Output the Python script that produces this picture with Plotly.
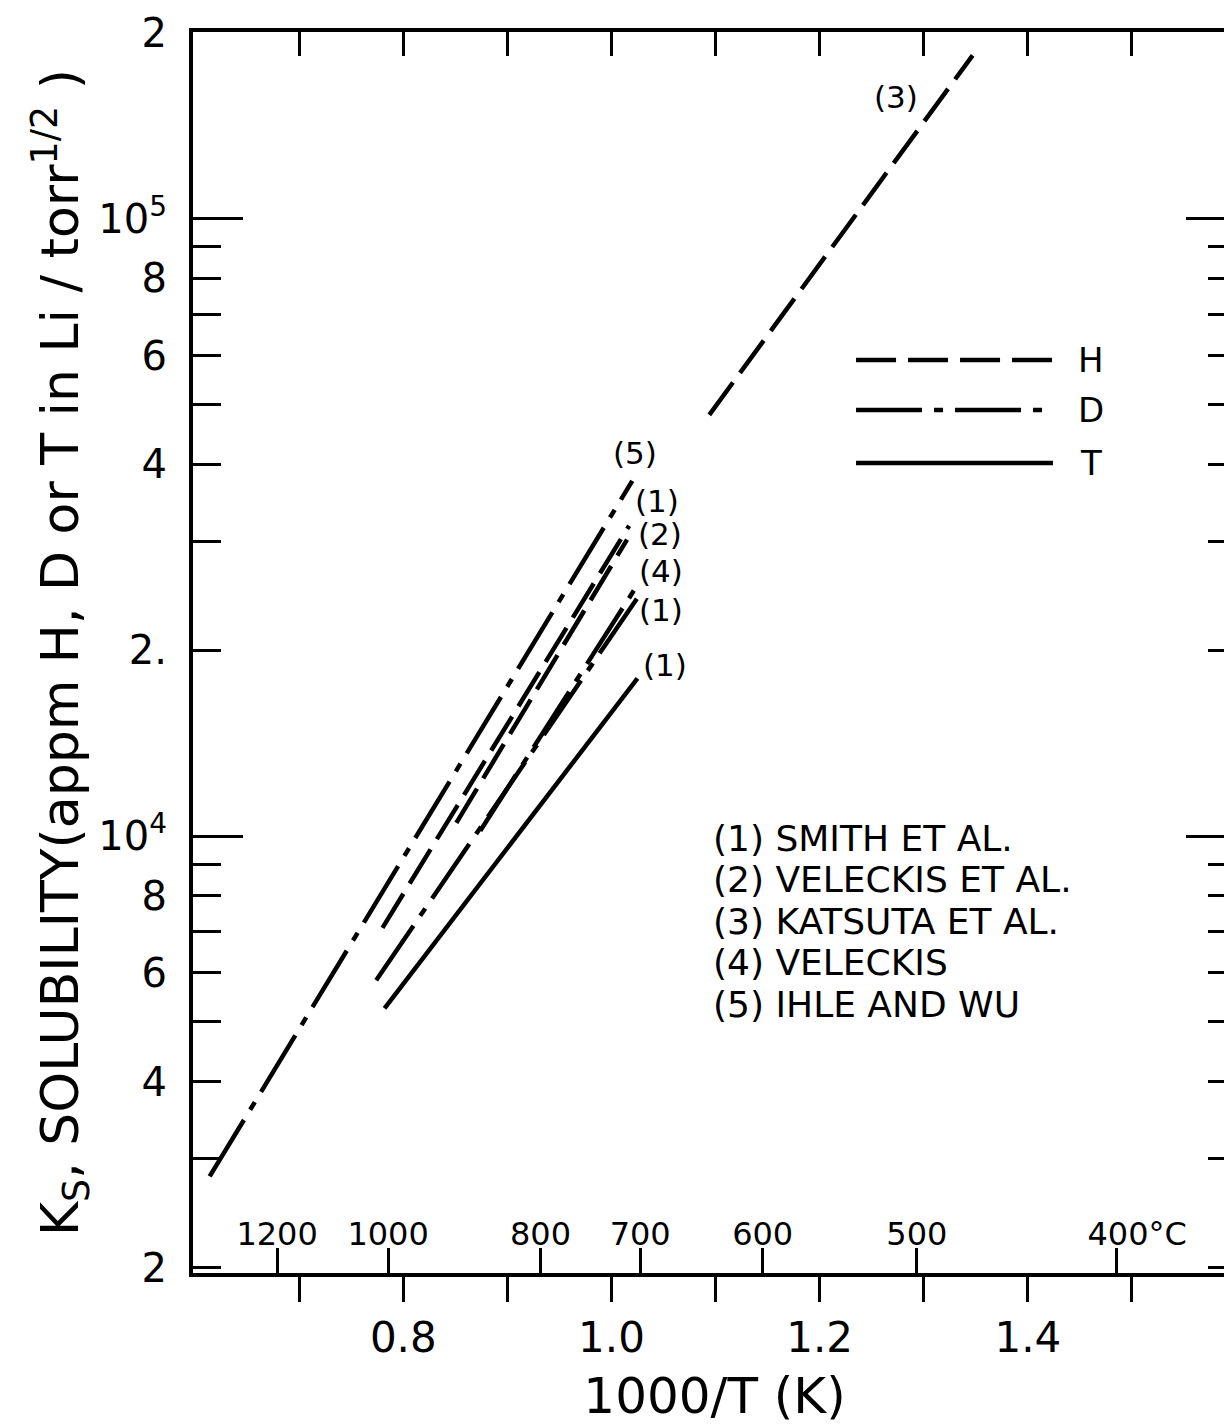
import numpy as np
import plotly.graph_objects as go

# ---------------- data (1000/T in K^-1, Ks in appm / torr^1/2) ----------------
smith_h_x = [0.780, 1.017]
smith_h_y = [7100, 31800]
veleckis_h_x = [0.851, 1.015]
veleckis_h_y = [10500, 30200]
katsuta_h_x = [1.094, 1.347]
katsuta_h_y = [48100, 183800]
veleckis_d_x = [0.874, 1.023]
veleckis_d_y = [10200, 25200]
smith_d_x = [0.774, 1.025]
smith_d_y = [5840, 24300]
ihle_d_x = [0.614, 1.020]
ihle_d_y = [2810, 37600]
smith_t_x = [0.782, 1.025]
smith_t_y = [5260, 18000]

x_ticks = [0.7, 0.8, 0.9, 1.0, 1.1, 1.2, 1.3, 1.4, 1.5]
x_ticktext = ["", "0.8", "", "1.0", "", "1.2", "", "1.4", ""]
y_ticks = [2000, 4000, 6000, 8000, 10000, 20000, 40000, 60000, 80000, 100000, 200000]
y_ticktext = ["2", "4", "6", "8", "10<sup>4</sup>", "2.", "4", "6", "8", "10<sup>5</sup>", "2"]
y_minor = [3000, 5000, 7000, 9000, 30000, 50000, 70000, 90000]
y_major = [10000, 100000]
temps_c = [1200, 1000, 800, 700, 600, 500, 400]
temps_text = ["1200", "1000", "800", "700", "600", "500", "\u00a0\u00a0\u00a0\u00a0400°C"]

references = ["(1) SMITH ET AL.", "(2) VELECKIS ET AL.", "(3) KATSUTA ET AL.",
              "(4) VELECKIS", "(5) IHLE AND WU"]

FONT = "DejaVu Sans"
H_DASH = "40px,12px"
D_DASH = "66px,12px,9px,12px"
LW = 4.5

fig = go.Figure()

series = [
    (smith_h_x, smith_h_y, H_DASH, "(1)", 28, 25),
    (veleckis_h_x, veleckis_h_y, H_DASH, "(2)", 33, 6),
    (katsuta_h_x, katsuta_h_y, H_DASH, "(3)", -77, -42),
    (veleckis_d_x, veleckis_d_y, D_DASH, "(4)", 26, 17),
    (smith_d_x, smith_d_y, D_DASH, "(1)", 24, -12),
    (ihle_d_x, ihle_d_y, D_DASH, "(5)", 3, 28),
    (smith_t_x, smith_t_y, "solid", "(1)", 28, 13),
]

annotations = []
for xs, ys, dash, lab, dx, dy in series:
    fig.add_trace(go.Scatter(x=xs, y=ys, mode="lines",
                             line=dict(color="black", width=LW, dash=dash),
                             showlegend=False, hoverinfo="skip"))
    annotations.append(dict(x=xs[-1], y=np.log10(ys[-1]), xref="x", yref="y",
                            text=lab, showarrow=False, xshift=dx, yshift=dy,
                            font=dict(family=FONT, size=31, color="black")))

# invisible traces so overlay axes are drawn
fig.add_trace(go.Scatter(x=katsuta_h_x, y=katsuta_h_y, xaxis="x2", yaxis="y", mode="lines",
                         line=dict(width=0), opacity=0, showlegend=False, hoverinfo="skip"))
fig.add_trace(go.Scatter(x=katsuta_h_x, y=katsuta_h_y, xaxis="x3", yaxis="y", mode="lines",
                         line=dict(width=0), opacity=0, showlegend=False, hoverinfo="skip"))
fig.add_trace(go.Scatter(x=katsuta_h_x, y=katsuta_h_y, xaxis="x", yaxis="y2", mode="lines",
                         line=dict(width=0), opacity=0, showlegend=False, hoverinfo="skip"))

# reference list
ref_top = 0.3505
for i, r in enumerate(references):
    annotations.append(dict(x=0.497, y=ref_top - i * 0.0335, xref="paper", yref="paper",
                            xanchor="left", yanchor="middle", text=r, showarrow=False,
                            font=dict(family=FONT, size=36, color="black")))

# isotope key
shapes = []
key = [("H", H_DASH, 0.7357), ("D", D_DASH, 0.6954), ("T", "solid", 0.6527)]
for name, dash, yk in key:
    shapes.append(dict(type="line", xref="paper", yref="paper", x0=0.6357, x1=0.8245,
                       y0=yk, y1=yk, line=dict(color="black", width=LW, dash=dash)))
    annotations.append(dict(x=0.861, y=yk, xref="paper", yref="paper", text=name,
                            showarrow=False, xanchor="center", yanchor="middle",
                            font=dict(family=FONT, size=34, color="black")))

xr = [0.598, 1.6]
yr = [np.log10(1960), np.log10(200500)]
temp_pos = [1000.0 / (t + 273.15) for t in temps_c]

fig.update_layout(
    width=1232, height=1428,
    margin=dict(l=185, r=4, t=24, b=163),
    paper_bgcolor="white", plot_bgcolor="white",
    font=dict(family=FONT, color="black"),
    annotations=annotations, shapes=shapes,
    xaxis=dict(range=xr, tickvals=x_ticks, ticktext=x_ticktext, ticks="outside",
               ticklen=25, tickwidth=3, tickcolor="black", showline=True, linewidth=4,
               linecolor="black", showgrid=False, zeroline=False, mirror=False,
               automargin=False,
               tickfont=dict(family=FONT, size=42, color="black"), ticklabelstandoff=0,
               title=dict(text="1000/T (K)", font=dict(family=FONT, size=50, color="black"),
                          standoff=18)),
    xaxis2=dict(range=xr, overlaying="x", side="top", anchor="y", tickvals=x_ticks,
                ticks="inside", ticklen=24, tickwidth=3, tickcolor="black",
                showticklabels=False, showline=True, linewidth=4, linecolor="black",
                showgrid=False, zeroline=False, automargin=False),
    xaxis3=dict(range=xr, overlaying="x", side="bottom", anchor="y", tickvals=temp_pos,
                ticktext=temps_text, ticks="inside", ticklen=25, tickwidth=3,
                tickcolor="black", ticklabelposition="inside", showline=False,
                showgrid=False, zeroline=False, automargin=False,
                ticklabeloverflow="allow",
                tickfont=dict(family=FONT, size=32, color="black")),
    yaxis=dict(type="log", range=yr, tickvals=y_ticks, ticktext=y_ticktext,
               ticks="inside", ticklen=28, tickwidth=3, tickcolor="black",
               showline=True, linewidth=4, linecolor="black", mirror="allticks",
               showgrid=False, zeroline=False, automargin=False,
               ticklabeloverflow="allow",
               tickfont=dict(family=FONT, size=40, color="black"),
               ticklabelstandoff=14,
               minor=dict(tickvals=y_minor, ticks="inside", ticklen=28, tickwidth=3,
                          tickcolor="black", showgrid=False),
               title=dict(text="K<sub>S</sub>, SOLUBILITY(appm H, D or T in Li / torr<sup>1/2</sup> )",
                          font=dict(family=FONT, size=52, color="black"), standoff=2)),
    yaxis2=dict(type="log", range=yr, overlaying="y", side="left", anchor="x",
                tickvals=y_major, ticks="inside", ticklen=50, tickwidth=3,
                tickcolor="black", showticklabels=False, showline=True, linewidth=4,
                linecolor="black", mirror="allticks", showgrid=False, zeroline=False,
                automargin=False),
)

fig.write_html("out.html")
